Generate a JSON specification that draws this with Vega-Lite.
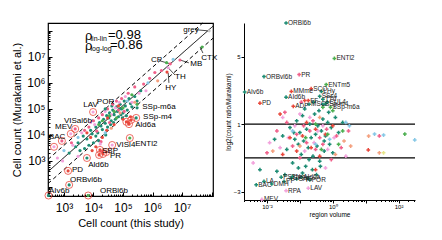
{
"$schema": "https://vega.github.io/schema/vega-lite/v6.json",
"padding": {"left": 10, "top": 15, "right": 5, "bottom": 5},
"spacing": 7,
"config": {"font": "Liberation Sans", "axis": {"titleFontWeight": "normal", "labelColor": "#000", "titleColor": "#000", "domainColor": "#000", "tickColor": "#000", "grid": false}},
"datasets": {
"lines": [
{"x": 288, "y": 389, "x2": 1.12e8, "y2": 1.51e8, "d": "s"},
{"x": 288, "y": 1146, "x2": 5.0e7, "y2": 2.0e8, "d": "d"},
{"x": 288, "y": 135, "x2": 1.12e8, "y2": 5.2e7, "d": "d"}
],
"lead": [
{"x": 3.0e7, "y": 1.1e8, "x2": 7.6e7, "y2": 1.0e8},
{"x": 5.1e7, "y": 1.4e7, "x2": 4.1e7, "y2": 2.4e7},
{"x": 1.7e7, "y": 5.9e6, "x2": 8.5e6, "y2": 7.6e6},
{"x": 1.8e6, "y": 7.0e6, "x2": 4.0e6, "y2": 5.4e6},
{"x": 5.8e6, "y": 2.0e6, "x2": 3.4e6, "y2": 3.8e6},
{"x": 3.6e6, "y": 1.0e6, "x2": 3.4e6, "y2": 2.4e6}
],
"rho": [
{"x": 5180, "y": 6.4e7, "t": "ρ", "k": "main"},
{"x": 7950, "y": 4.9e7, "t": "lin-lin", "k": "sub"},
{"x": 31000, "y": 7.0e7, "t": "=0.98", "k": "main"},
{"x": 5180, "y": 2.6e7, "t": "ρ", "k": "main"},
{"x": 7950, "y": 2.0e7, "t": "log-log", "k": "sub"},
{"x": 36000, "y": 2.9e7, "t": "=0.86", "k": "main"}
],
"lc": [
{"x":3000,"y":5000,"c":"t"},{"x":4500,"y":9000,"c":"t"},{"x":6000,"y":7000,"c":"t"},{"x":8000,"y":15000,"c":"t"},{"x":9000,"y":11000,"c":"t"},{"x":12000,"y":20000,"c":"t"},{"x":14000,"y":12000,"c":"t"},{"x":16000,"y":30000,"c":"t"},{"x":18000,"y":22000,"c":"t"},{"x":20000,"y":16000,"c":"t"},{"x":22000,"y":40000,"c":"t"},{"x":25000,"y":28000,"c":"t"},{"x":28000,"y":55000,"c":"t"},{"x":30000,"y":20000,"c":"t"},{"x":33000,"y":45000,"c":"t"},{"x":35000,"y":70000,"c":"t"},{"x":40000,"y":35000,"c":"t"},{"x":45000,"y":90000,"c":"t"},{"x":50000,"y":60000,"c":"t"},{"x":55000,"y":40000,"c":"t"},{"x":60000,"y":120000,"c":"t"},{"x":65000,"y":80000,"c":"t"},{"x":70000,"y":50000,"c":"t"},{"x":80000,"y":150000,"c":"t"},{"x":90000,"y":100000,"c":"t"},{"x":100000,"y":70000,"c":"t"},{"x":110000,"y":200000,"c":"t"},{"x":120000,"y":130000,"c":"t"},{"x":140000,"y":90000,"c":"t"},{"x":160000,"y":250000,"c":"t"},{"x":180000,"y":160000,"c":"t"},{"x":200000,"y":120000,"c":"t"},{"x":250000,"y":300000,"c":"t"},{"x":300000,"y":200000,"c":"t"},{"x":12000,"y":9000,"c":"t"},{"x":7000,"y":4000,"c":"t"},{"x":5000,"y":3000,"c":"t"},{"x":3500,"y":2500,"c":"t"},{"x":2500,"y":3500,"c":"t"},{"x":1500,"y":2000,"c":"t"},{"x":26000,"y":10000,"c":"t"},{"x":38000,"y":25000,"c":"t"},{"x":48000,"y":30000,"c":"t"},{"x":15000,"y":6000,"c":"t"},{"x":10000,"y":5000,"c":"t"},{"x":85000,"y":60000,"c":"t"},{"x":130000,"y":55000,"c":"t"},{"x":42000,"y":130000,"c":"t"},{"x":400000,"y":500000,"c":"t"},{"x":75000,"y":100000,"c":"t"},{"x":95000,"y":45000,"c":"t"},
{"x":1800,"y":5000,"c":"p"},{"x":5000,"y":15000,"c":"p"},{"x":7000,"y":20000,"c":"p"},{"x":10000,"y":35000,"c":"p"},{"x":15000,"y":45000,"c":"p"},{"x":20000,"y":60000,"c":"p"},{"x":30000,"y":100000,"c":"p"},{"x":45000,"y":150000,"c":"p"},{"x":60000,"y":200000,"c":"p"},{"x":90000,"y":250000,"c":"p"},{"x":150000,"y":400000,"c":"p"},{"x":250000,"y":700000,"c":"p"},{"x":500000,"y":900000,"c":"p"},{"x":800000,"y":1500000,"c":"p"},{"x":1200000,"y":2500000,"c":"p"},{"x":2000000,"y":3000000,"c":"p"},{"x":13000,"y":14000,"c":"p"},{"x":35000,"y":30000,"c":"p"},{"x":70000,"y":90000,"c":"p"},{"x":18000,"y":5500,"c":"p"},{"x":110000,"y":80000,"c":"p"},
{"x":600,"y":1300,"c":"lp"},{"x":900,"y":1000,"c":"lp"},{"x":2000,"y":4000,"c":"lp"},{"x":4000,"y":12000,"c":"lp"},{"x":8000,"y":30000,"c":"lp"},{"x":11000,"y":25000,"c":"lp"},{"x":25000,"y":80000,"c":"lp"},{"x":40000,"y":60000,"c":"lp"},{"x":75000,"y":180000,"c":"lp"},{"x":120000,"y":300000,"c":"lp"},{"x":200000,"y":180000,"c":"lp"},{"x":350000,"y":400000,"c":"lp"},{"x":600000,"y":500000,"c":"lp"},{"x":3000,"y":1500,"c":"lp"},{"x":17000,"y":4500,"c":"lp"},{"x":55000,"y":110000,"c":"lp"},
{"x":9000,"y":2500,"c":"r"},{"x":12000,"y":3500,"c":"r"},{"x":20000,"y":8000,"c":"r"},{"x":28000,"y":15000,"c":"r"},{"x":50000,"y":25000,"c":"r"},{"x":100000,"y":40000,"c":"r"},{"x":150000,"y":30000,"c":"r"},{"x":180000,"y":50000,"c":"r"},{"x":6000,"y":12000,"c":"r"},{"x":30000,"y":45000,"c":"r"},{"x":70000,"y":130000,"c":"r"},{"x":8000,"y":8000,"c":"r"},
{"x":15000,"y":25000,"c":"g"},{"x":35000,"y":55000,"c":"g"},{"x":60000,"y":45000,"c":"g"},{"x":100000,"y":110000,"c":"g"},{"x":200000,"y":350000,"c":"g"},{"x":300000,"y":150000,"c":"g"},{"x":50000,"y":80000,"c":"g"},{"x":20000,"y":35000,"c":"g"},{"x":3000000,"y":6000000,"c":"g"},
{"x":1000,"y":2500,"c":"lb"},{"x":3000,"y":8000,"c":"lb"},{"x":25000,"y":12000,"c":"lb"},{"x":140000,"y":200000,"c":"lb"},{"x":700000,"y":1000000,"c":"lb"},{"x":5000000,"y":8000000,"c":"lb"},
{"x":40000,"y":18000,"c":"s"},{"x":80000,"y":70000,"c":"s"},{"x":250000,"y":180000,"c":"s"},{"x":1500000,"y":1200000,"c":"s"}
],
"ll": [
{"n":"grey","x":8.3e7,"y":1.0e8,"tx":1.1e7,"ty":1.1e8,"c":"gr","ring":false},
{"n":"CTX","x":4.8e7,"y":2.4e7,"tx":4.5e7,"ty":9.1e6,"c":"g","ring":false},
{"n":"MB","x":8.5e6,"y":7.6e6,"tx":1.9e7,"ty":5.4e6,"c":"p","ring":false},
{"n":"CP","x":4.0e6,"y":5.4e6,"tx":8.9e5,"ty":7.6e6,"c":"p","ring":false},
{"n":"TH","x":3.4e6,"y":3.8e6,"tx":5.8e6,"ty":1.7e6,"c":"lp","ring":false},
{"n":"HY","x":3.1e6,"y":2.6e6,"tx":2.7e6,"ty":6.5e5,"c":"r","ring":false},
{"n":"LAV","x":9700,"y":7.6e4,"tx":4500,"ty":1.4e5,"c":"lp","ring":true},
{"n":"POR","x":2.5e4,"y":1.0e5,"tx":1.3e4,"ty":1.9e5,"c":"t","ring":false},
{"n":"VISal6b","x":2400,"y":1.7e4,"tx":1000,"ty":3.5e4,"c":"p","ring":true},
{"n":"MEV","x":1700,"y":1.1e4,"tx":500,"ty":2.0e4,"c":"lp","ring":true},
{"n":"BAC","x":850,"y":5900,"tx":310,"ty":8300,"c":"p","ring":true},
{"n":"","x":460,"y":3500,"tx":460,"ty":3500,"c":"lp","ring":true},
{"n":"SSp-m6a","x":3.0e5,"y":1.1e5,"tx":4.5e5,"ty":1.2e5,"c":"t","ring":false},
{"n":"SSp-m4","x":2.8e5,"y":4.5e4,"tx":4.8e5,"ty":4.9e4,"c":"t","ring":true},
{"n":"Ald6a","x":1.6e5,"y":2.6e4,"tx":2.6e5,"ty":2.4e4,"c":"r","ring":true},
{"n":"","x":1.9e5,"y":3.8e4,"tx":1.9e5,"ty":3.8e4,"c":"r","ring":true},
{"n":"","x":1.3e5,"y":3.2e4,"tx":1.3e5,"ty":3.2e4,"c":"r","ring":true},
{"n":"VISl4","x":4.3e4,"y":4100,"tx":5.9e4,"ty":4100,"c":"lp","ring":true},
{"n":"ENTl2","x":1.7e5,"y":7600,"tx":2.6e5,"ty":4500,"c":"g","ring":true},
{"n":"PR","x":1.66e4,"y":2650,"tx":3.6e4,"ty":1550,"c":"r","ring":true},
{"n":"","x":2.1e4,"y":1860,"tx":2.1e4,"ty":1860,"c":"r","ring":true},
{"n":"","x":1.55e4,"y":1700,"tx":1.55e4,"ty":1700,"c":"r","ring":true},
{"n":"","x":2.7e4,"y":2200,"tx":2.7e4,"ty":2200,"c":"r","ring":true},
{"n":"SBP","x":1.95e4,"y":2400,"tx":1.95e4,"ty":2400,"c":"p","ring":false},
{"n":"Ald6b","x":6000,"y":1300,"tx":6600,"ty":700,"c":"t","ring":true},
{"n":"PD","x":1380,"y":415,"tx":1860,"ty":450,"c":"r","ring":true},
{"n":"ORBvl6b","x":1500,"y":120,"tx":1600,"ty":186,"c":"t","ring":true},
{"n":"AIv6b","x":300,"y":47,"tx":310,"ty":70,"c":"t","ring":true},
{"n":"ORBl6b","x":6600,"y":47,"tx":1.66e4,"ty":70,"c":"g","ring":true}
],
"rc": [
{"v":0.03,"r":0.3,"c":"t"},{"v":0.04,"r":-0.5,"c":"t"},{"v":0.05,"r":0.8,"c":"t"},{"v":0.06,"r":-1.3,"c":"t"},{"v":0.07,"r":0.1,"c":"t"},{"v":0.08,"r":1.2,"c":"t"},{"v":0.09,"r":-0.2,"c":"t"},{"v":0.1,"r":0.5,"c":"t"},{"v":0.11,"r":-0.8,"c":"t"},{"v":0.12,"r":1.5,"c":"t"},{"v":0.13,"r":0.0,"c":"t"},{"v":0.15,"r":-1.5,"c":"t"},{"v":0.16,"r":0.7,"c":"t"},{"v":0.18,"r":-0.4,"c":"t"},{"v":0.2,"r":1.0,"c":"t"},{"v":0.22,"r":0.2,"c":"t"},{"v":0.25,"r":-0.9,"c":"t"},{"v":0.28,"r":1.6,"c":"t"},{"v":0.3,"r":0.4,"c":"t"},{"v":0.33,"r":-0.3,"c":"t"},{"v":0.35,"r":0.9,"c":"t"},{"v":0.4,"r":-1.2,"c":"t"},{"v":0.45,"r":0.6,"c":"t"},{"v":0.5,"r":1.3,"c":"t"},{"v":0.55,"r":-0.6,"c":"t"},{"v":0.6,"r":0.3,"c":"t"},{"v":0.7,"r":1.1,"c":"t"},{"v":0.8,"r":-0.2,"c":"t"},{"v":0.9,"r":0.8,"c":"t"},{"v":1.0,"r":-0.7,"c":"t"},{"v":1.2,"r":1.4,"c":"t"},{"v":1.5,"r":0.5,"c":"t"},{"v":2.0,"r":1.1,"c":"t"},{"v":0.02,"r":-1.8,"c":"t"},{"v":0.035,"r":-2.0,"c":"t"},{"v":0.06,"r":-2.1,"c":"t"},{"v":0.09,"r":-1.6,"c":"t"},{"v":0.12,"r":-1.9,"c":"t"},{"v":0.17,"r":-2.2,"c":"t"},{"v":0.24,"r":-1.7,"c":"t"},{"v":0.32,"r":-2.0,"c":"t"},{"v":0.14,"r":1.9,"c":"t"},{"v":0.26,"r":2.3,"c":"t"},{"v":0.38,"r":1.8,"c":"t"},{"v":0.6,"r":2.2,"c":"t"},{"v":0.75,"r":1.7,"c":"t"},{"v":0.19,"r":-1.1,"c":"t"},{"v":0.42,"r":-1.5,"c":"t"},{"v":0.065,"r":0.5,"c":"t"},{"v":0.55,"r":0.0,"c":"t"},{"v":0.017,"r":0.1,"c":"t"},{"v":0.0061,"r":-1.7,"c":"t"},
{"v":0.01,"r":-0.7,"c":"p"},{"v":0.02,"r":0.6,"c":"p"},{"v":0.04,"r":1.1,"c":"p"},{"v":0.06,"r":-0.3,"c":"p"},{"v":0.08,"r":0.4,"c":"p"},{"v":0.1,"r":-1.0,"c":"p"},{"v":0.13,"r":0.9,"c":"p"},{"v":0.16,"r":-0.1,"c":"p"},{"v":0.2,"r":0.6,"c":"p"},{"v":0.25,"r":1.2,"c":"p"},{"v":0.3,"r":-0.5,"c":"p"},{"v":0.4,"r":0.2,"c":"p"},{"v":0.5,"r":-0.2,"c":"p"},{"v":0.65,"r":0.7,"c":"p"},{"v":0.9,"r":-1.1,"c":"p"},{"v":1.3,"r":0.3,"c":"p"},{"v":1.8,"r":-0.4,"c":"p"},{"v":3.0,"r":0.6,"c":"p"},{"v":26,"r":0.3,"c":"p"},{"v":0.035,"r":1.7,"c":"p"},{"v":0.11,"r":2.3,"c":"p"},
{"v":0.012,"r":-0.1,"c":"lp"},{"v":0.025,"r":-0.4,"c":"lp"},{"v":0.045,"r":0.2,"c":"lp"},{"v":0.07,"r":0.9,"c":"lp"},{"v":0.1,"r":1.6,"c":"lp"},{"v":0.14,"r":-0.6,"c":"lp"},{"v":0.2,"r":1.4,"c":"lp"},{"v":0.27,"r":-0.1,"c":"lp"},{"v":0.35,"r":0.6,"c":"lp"},{"v":0.5,"r":0.9,"c":"lp"},{"v":0.7,"r":-0.5,"c":"lp"},{"v":1.1,"r":0.2,"c":"lp"},{"v":2.5,"r":-0.9,"c":"lp"},{"v":0.0038,"r":-1.3,"c":"lp"},{"v":0.03,"r":1.4,"c":"lp"},{"v":0.6,"r":-1.6,"c":"lp"},
{"v":0.03,"r":-0.8,"c":"r"},{"v":0.05,"r":0.2,"c":"r"},{"v":0.08,"r":-0.6,"c":"r"},{"v":0.12,"r":0.3,"c":"r"},{"v":0.16,"r":1.1,"c":"r"},{"v":0.22,"r":-0.4,"c":"r"},{"v":0.3,"r":0.7,"c":"r"},{"v":0.4,"r":-0.9,"c":"r"},{"v":0.6,"r":0.4,"c":"r"},{"v":1.0,"r":0.9,"c":"r"},{"v":12,"r":-0.53,"c":"r"},{"v":0.025,"r":1.6,"c":"r"},{"v":0.14,"r":2.4,"c":"r"},{"v":0.3,"r":-1.7,"c":"r"},
{"v":0.15,"r":0.2,"c":"g"},{"v":0.3,"r":1.0,"c":"g"},{"v":0.45,"r":-0.5,"c":"g"},{"v":0.7,"r":0.4,"c":"g"},{"v":1.0,"r":1.8,"c":"g"},{"v":1.5,"r":-0.2,"c":"g"},{"v":2.0,"r":0.6,"c":"g"},{"v":155,"r":0.41,"c":"g"},{"v":0.5,"r":2.0,"c":"g"},
{"v":0.06,"r":0.6,"c":"lb"},{"v":0.3,"r":-0.2,"c":"lb"},{"v":0.8,"r":0.1,"c":"lb"},{"v":2.5,"r":1.1,"c":"lb"},{"v":18.6,"r":0.41,"c":"lb"},{"v":35,"r":0.35,"c":"lb"},{"v":310,"r":0.06,"c":"lb"},{"v":3.2,"r":0.9,"c":"lb"},
{"v":0.015,"r":-0.6,"c":"s"},{"v":0.1,"r":-0.3,"c":"s"},{"v":0.4,"r":1.4,"c":"s"},{"v":1.2,"r":-0.8,"c":"s"},{"v":3.5,"r":-0.3,"c":"s"},{"v":26,"r":-0.7,"c":"s"},{"v":2.2,"r":0.0,"c":"s"},{"v":12.3,"r":0.29,"c":"s"},
{"v":35,"r":-0.7,"c":"y"}
],
"rl": [
{"n":"ORBl6b","v":0.038,"r":7.0,"c":"t"},
{"n":"ENTl2","v":1.12,"r":4.9,"c":"g"},
{"n":"ORBvl6b","v":0.0081,"r":3.82,"c":"t"},
{"n":"PR","v":0.095,"r":3.94,"c":"p"},
{"n":"ENTm5","v":0.63,"r":3.35,"c":"g"},
{"n":"SCO","v":0.22,"r":3.1,"c":"r"},
{"n":"AIv6b","v":0.0021,"r":2.9,"c":"t"},
{"n":"MMme","v":0.055,"r":2.94,"c":"r"},
{"n":"PD","v":0.0061,"r":2.24,"c":"r"},
{"n":"AId6b","v":0.038,"r":2.6,"c":"t"},
{"n":"FF","v":0.18,"r":2.4,"c":"r"},
{"n":"ADP","v":0.063,"r":2.06,"c":"r"},
{"n":"MSC","v":0.19,"r":2.18,"c":"t"},
{"n":"LHy","v":0.45,"r":2.94,"c":"t"},
{"n":"SSs4","v":0.4,"r":2.65,"c":"t"},
{"n":"TTd","v":0.5,"r":2.47,"c":"t"},
{"n":"CUL4","v":0.68,"r":2.3,"c":"t"},
{"n":"SSp-m4","v":0.5,"r":2.18,"c":"t"},
{"n":"SSp-m6a","v":0.85,"r":2.0,"c":"g"},
{"n":"BAC","v":0.0047,"r":-2.6,"c":"t"},
{"n":"LAV","v":0.18,"r":-2.8,"c":"lp"},
{"n":"RPA","v":0.038,"r":-2.95,"c":"lp"},
{"n":"POR","v":0.2,"r":-2.3,"c":"t"},
{"n":"MEV","v":0.007,"r":-3.47,"c":"lp"},
{"n":"LA","v":0.0081,"r":-2.4,"c":"t"},
{"n":"DMH","v":0.014,"r":-2.55,"c":"t"},
{"n":"PSTN","v":0.027,"r":-2.15,"c":"t"},
{"n":"SPFp","v":0.055,"r":-2.2,"c":"t"},
{"n":"AId6a","v":0.11,"r":-2.15,"c":"t"},
{"n":"PP","v":0.033,"r":-2.4,"c":"t"},
{"n":"SAG","v":0.08,"r":-2.25,"c":"t"}
]
},
"hconcat": [
{
"width": 165, "height": 173,
"view": {"stroke": "#000", "strokeWidth": 1.2},
"encoding": {
"x": {"field": "x", "type": "quantitative", "title": "Cell count (this study)",
 "scale": {"type": "log", "domain": [288, 1.12e8], "nice": false},
 "axis": {"domain": false, "labelOverlap": false, "labelFontSize": 12, "titleFontSize": 11, "labelPadding": 10, "titlePadding": 2,
  "values": [300,400,500,600,700,800,900,1000,2000,3000,4000,5000,6000,7000,8000,9000,10000,20000,30000,40000,50000,60000,70000,80000,90000,100000,200000,300000,400000,500000,600000,700000,800000,900000,1000000,2000000,3000000,4000000,5000000,6000000,7000000,8000000,9000000,10000000,20000000,30000000,40000000,50000000,60000000,70000000,80000000,90000000,100000000],
  "tickSize": {"condition": {"test": "abs(log(datum.value)/LN10 - round(log(datum.value)/LN10)) < 0.001", "value": -4}, "value": -2},
  "labelExpr": "(abs(log(datum.value)/LN10 - round(log(datum.value)/LN10)) < 0.001 && round(log(datum.value)/LN10) >= 3 && round(log(datum.value)/LN10) <= 7) ? '10' + ['⁰','¹','²','³','⁴','⁵','⁶','⁷','⁸'][round(log(datum.value)/LN10)] : ''"}},
"y": {"field": "y", "type": "quantitative", "title": "Cell count (Murakami et al.)",
 "scale": {"type": "log", "domain": [45, 2.0e8], "nice": false},
 "axis": {"domain": false, "labelOverlap": false, "labelFontSize": 12, "titleFontSize": 11, "labelPadding": 7, "titlePadding": 4,
  "values": [50,60,70,80,90,100,200,300,400,500,600,700,800,900,1000,2000,3000,4000,5000,6000,7000,8000,9000,10000,20000,30000,40000,50000,60000,70000,80000,90000,100000,200000,300000,400000,500000,600000,700000,800000,900000,1000000,2000000,3000000,4000000,5000000,6000000,7000000,8000000,9000000,10000000,20000000,30000000,40000000,50000000,60000000,70000000,80000000,90000000,100000000,200000000],
  "tickSize": {"condition": {"test": "abs(log(datum.value)/LN10 - round(log(datum.value)/LN10)) < 0.001", "value": -4}, "value": -2},
  "labelExpr": "(abs(log(datum.value)/LN10 - round(log(datum.value)/LN10)) < 0.001 && round(log(datum.value)/LN10) >= 3 && round(log(datum.value)/LN10) <= 7) ? '10' + ['⁰','¹','²','³','⁴','⁵','⁶','⁷','⁸'][round(log(datum.value)/LN10)] : ''"}}
},
"layer": [
{"data": {"name": "lines"}, "mark": {"type": "rule", "color": "#000", "strokeWidth": 1},
 "encoding": {"x2": {"field": "x2"}, "y2": {"field": "y2"},
  "strokeDash": {"field": "d", "type": "nominal", "scale": {"domain": ["s", "d"], "range": [[1, 0], [4, 3]]}, "legend": null}}},
{"data": {"name": "lead"}, "mark": {"type": "rule", "color": "#000", "strokeWidth": 0.7},
 "encoding": {"x2": {"field": "x2"}, "y2": {"field": "y2"}}},
{"data": {"name": "lc"}, "mark": {"type": "circle", "size": 10, "opacity": 1},
 "encoding": {"color": {"field": "c", "type": "nominal", "legend": null,
  "scale": {"domain": ["t","p","lp","r","g","lb","s","y","gr"], "range": ["#1e8c74","#f0608a","#f2a2dc","#e8483c","#4caf50","#86c8e6","#f4a07e","#e6e68a","#c8c8c8"]}}}},
{"data": {"name": "ll"}, "mark": {"type": "circle", "size": 10, "opacity": 1},
 "encoding": {"color": {"field": "c", "type": "nominal", "legend": null}}},
{"data": {"name": "ll"}, "transform": [{"filter": "datum.ring"}], "mark": {"type": "point", "shape": "circle", "filled": false, "size": 50, "color": "#e8483c", "strokeWidth": 0.8, "opacity": 1},
 "encoding": {}},
{"data": {"name": "ll"}, "mark": {"type": "text", "align": "left", "baseline": "middle", "fontSize": 8, "color": "#000"},
 "encoding": {"x": {"field": "tx", "type": "quantitative", "title": "Cell count (this study)"}, "y": {"field": "ty", "type": "quantitative", "title": "Cell count (Murakami et al.)"}, "text": {"field": "n"}}},
{"data": {"name": "rho"}, "transform": [{"filter": "datum.k == 'main'"}], "mark": {"type": "text", "align": "left", "baseline": "middle", "fontSize": 13, "color": "#000"},
 "encoding": {"text": {"field": "t"}}},
{"data": {"name": "rho"}, "transform": [{"filter": "datum.k == 'sub'"}], "mark": {"type": "text", "align": "left", "baseline": "middle", "fontSize": 7, "color": "#000"},
 "encoding": {"text": {"field": "t"}}}
]
},
{
"width": 171, "height": 177,
"view": {"stroke": null},
"title": {"text": " ", "fontSize": 1, "offset": 4},
"layer": [
{"data": {"values": [{"r": 1}, {"r": -1}]}, "mark": {"type": "rule", "color": "#000", "strokeWidth": 1.2},
 "encoding": {"y": {"field": "r", "type": "quantitative", "title": "log2(count ratio/Murakami)",
  "scale": {"domain": [-3.5, 7], "nice": false, "zero": false},
  "axis": {"values": [-3,-2,-1,0,1,2,3,4,5,6,7], "labelOverlap": false, "labelFontSize": 6, "titleFontSize": 6.5, "tickSize": 3, "labelPadding": 1, "titlePadding": 2, "domainWidth": 1}}}},
{"data": {"name": "rc"}, "mark": {"type": "point", "shape": "cross", "filled": true, "size": 14, "opacity": 1},
 "encoding": {
  "x": {"field": "v", "type": "quantitative", "title": "region volume",
   "scale": {"type": "log", "domain": [0.002, 316], "nice": false},
   "axis": {"labelFontSize": 6, "titleFontSize": 6.5, "labelPadding": 0, "titlePadding": 2, "domainWidth": 1, "labelOverlap": false,
    "values": [0.002,0.003,0.004,0.005,0.006,0.007,0.008,0.009,0.01,0.02,0.03,0.04,0.05,0.06,0.07,0.08,0.09,0.1,0.2,0.3,0.4,0.5,0.6,0.7,0.8,0.9,1,2,3,4,5,6,7,8,9,10,20,30,40,50,60,70,80,90,100,200,300],
    "tickSize": {"condition": {"test": "abs(log(datum.value)/LN10 - round(log(datum.value)/LN10)) < 0.001", "value": 3}, "value": 1.5},
    "labelExpr": "abs(log(datum.value)/LN10 - round(log(datum.value)/LN10)) > 0.001 ? '' : (round(log(datum.value)/LN10) == -2 ? '10⁻²' : round(log(datum.value)/LN10) == 0 ? '10⁰' : round(log(datum.value)/LN10) == 2 ? '10²' : '')"}},
  "y": {"field": "r", "type": "quantitative", "title": "log2(count ratio/Murakami)"},
  "color": {"field": "c", "type": "nominal", "legend": null}}},
{"data": {"name": "rl"}, "mark": {"type": "point", "shape": "cross", "filled": true, "size": 14, "opacity": 1},
 "encoding": {"x": {"field": "v", "type": "quantitative", "title": "region volume"}, "y": {"field": "r", "type": "quantitative", "title": "log2(count ratio/Murakami)"}, "color": {"field": "c", "type": "nominal", "legend": null}}},
{"data": {"name": "rl"}, "mark": {"type": "text", "align": "left", "baseline": "middle", "fontSize": 6.5, "dx": 2, "color": "#222"},
 "encoding": {"x": {"field": "v", "type": "quantitative", "title": "region volume"}, "y": {"field": "r", "type": "quantitative", "title": "log2(count ratio/Murakami)"}, "text": {"field": "n"}}}
]
}
]
}
